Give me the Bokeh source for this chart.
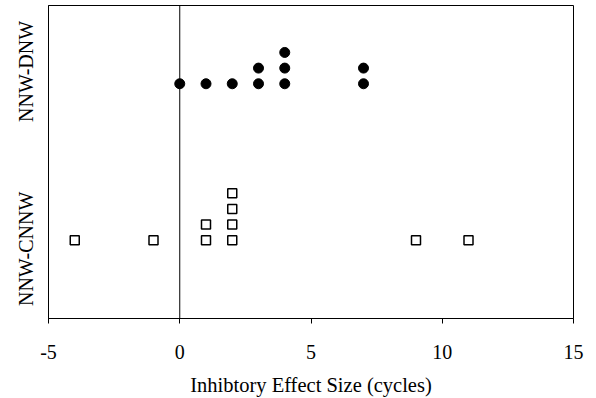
from bokeh.plotting import figure
from bokeh.models import FixedTicker, Span
from bokeh.embed import file_html
from bokeh.resources import INLINE

categories = ["NNW-CNNW", "NNW-DNW"]
cat_pos = [1, 3]
x_ticks = [-5, 0, 5, 10, 15]
x_tick_labels = ["-5", "0", "5", "10", "15"]

dnw_x = [0, 1, 2, 3, 4, 7, 3, 4, 7, 4]
dnw_stack = [0, 0, 0, 0, 0, 0, 1, 1, 1, 2]
cnnw_x = [-4, -1, 1, 2, 9, 11, 1, 2, 2, 2]
cnnw_stack = [0, 0, 0, 0, 0, 0, 1, 1, 2, 3]

# layout constants
step = 0.2
label_shift = [-0.11, 0.157]

dnw_y = [cat_pos[1] + step * s for s in dnw_stack]
cnnw_y = [cat_pos[0] + step * s for s in cnnw_stack]
label_pos = [cat_pos[i] + label_shift[i] for i in range(len(cat_pos))]

p = figure(frame_width=525, frame_height=313, x_range=(-5, 15), y_range=(0, 4),
           output_backend="svg", toolbar_location=None,
           min_border_left=48, min_border_right=23, min_border_top=5, min_border_bottom=60)
p.grid.visible = False
p.outline_line_color = "black"
p.outline_line_width = 1
p.background_fill_color = "white"
p.border_fill_color = "white"

FONT = "Liberation Serif"
p.xaxis.ticker = FixedTicker(ticks=x_ticks)
p.xaxis.major_label_overrides = {x_ticks[i]: x_tick_labels[i] for i in range(len(x_ticks))}
p.xaxis.major_label_text_font = FONT
p.xaxis.major_label_text_font_size = "20px"
p.xaxis.major_label_text_color = "black"
p.xaxis.major_label_standoff = 21
p.xaxis.major_tick_out = 5
p.xaxis.major_tick_in = 0
p.xaxis.minor_tick_line_color = None
p.xaxis.axis_line_color = "black"
p.xaxis.major_tick_line_color = "black"
p.xaxis.axis_label = "Inhibtory Effect Size (cycles)"
p.xaxis.axis_label_text_font = FONT
p.xaxis.axis_label_text_font_size = "20.5px"
p.xaxis.axis_label_text_font_style = "normal"
p.xaxis.axis_label_text_color = "black"
p.xaxis.axis_label_standoff = 12

p.yaxis.ticker = FixedTicker(ticks=label_pos)
p.yaxis.major_label_overrides = {label_pos[i]: categories[i] for i in range(len(categories))}
p.yaxis.major_label_orientation = "vertical"
p.yaxis.major_label_text_font = FONT
p.yaxis.major_label_text_font_size = "20px"
p.yaxis.major_label_text_color = "black"
p.yaxis.major_label_standoff = 5
p.yaxis.major_tick_line_color = None
p.yaxis.minor_tick_line_color = None
p.yaxis.axis_line_color = "black"

p.add_layout(Span(location=0, dimension="height", line_color="black", line_width=1))

p.scatter(x=dnw_x, y=dnw_y, marker="circle", size=10, fill_color="black", line_color="black")
p.scatter(x=cnnw_x, y=cnnw_y, marker="square", size=9, fill_color="white", line_color="black", line_width=1.5)

open("out.html", "w").write(file_html(p, INLINE))
